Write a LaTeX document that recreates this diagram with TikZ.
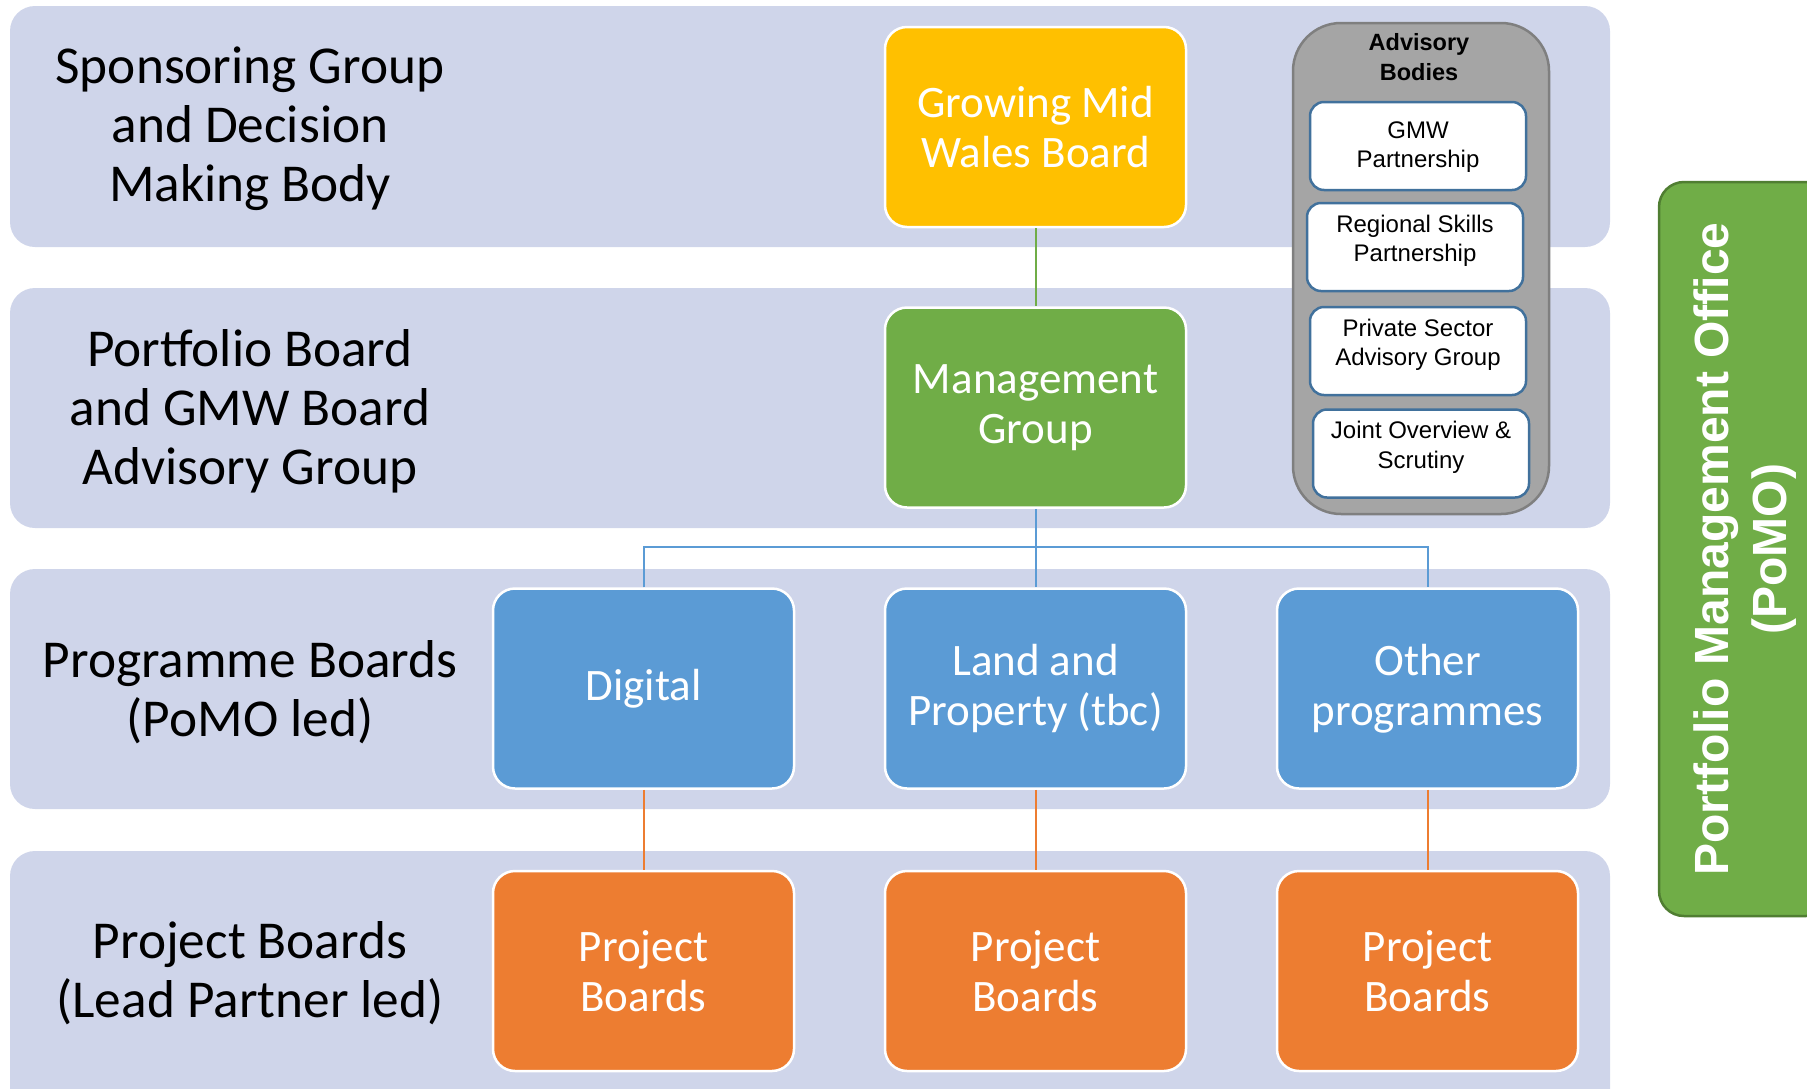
\documentclass[tikz,border=0pt]{standalone}
\usepackage{fontspec}
\setmainfont{Carlito}
\newfontfamily\arialf{Liberation Sans}
\definecolor{bandc}{HTML}{CFD5EA}
\definecolor{yellowc}{HTML}{FFC000}
\definecolor{greenc}{HTML}{70AD47}
\definecolor{bluec}{HTML}{5B9BD5}
\definecolor{orangec}{HTML}{ED7D31}
\definecolor{advgray}{HTML}{A5A5A5}
\definecolor{advborder}{HTML}{7F7F7F}
\definecolor{advblue}{HTML}{41719C}
\definecolor{pomoborder}{HTML}{507E32}
\begin{document}
\begin{tikzpicture}[x=1pt,y=-1pt,
  band/.style={fill=bandc, rounded corners=25pt},
  mainbox/.style={draw=white, line width=2.5pt, rounded corners=22pt, minimum width=301pt, minimum height=200pt, text=white, align=center, font=\fontsize{45}{50}\selectfont, inner sep=0pt},
  lbl/.style={align=center, font=\fontsize{53.3}{59}\selectfont, inner sep=0pt},
  advbox/.style={draw=advblue, fill=white, line width=2.5pt, rounded corners=14pt, minimum width=216pt, minimum height=88pt, inner sep=0pt},
  advtext/.style={align=center, font=\arialf\fontsize{24}{29.5}\selectfont, inner sep=0pt},
  conn/.style={line width=2pt}]
\useasboundingbox (0,0) rectangle (1807,1088);
\clip (0,0) rectangle (1807,1088);
% bands
\fill[band] (10,6) rectangle (1610,247);
\fill[band] (10,288) rectangle (1610,528);
\fill[band] (10,569) rectangle (1610,809);
\fill[band] (10,851) rectangle (1610,1115);
% left labels
\node[lbl] (l1) at (250,129) {Sponsoring Group\\and Decision\\Making Body};
\node[lbl] (l2) at (250,411) {Portfolio Board\\and GMW Board\\Advisory Group};
\node[lbl] (l3) at (250,692) {Programme Boards\\(PoMO led)};
\node[lbl] (l4) at (250,973.5) {Project Boards\\(Lead Partner led)};
% main boxes
\node[mainbox, fill=yellowc] (gmwb) at (1035.5,127) {Growing Mid\\Wales Board};
\node[mainbox, fill=greenc] (mg) at (1035.5,407.5) {Management\\Group};
\node[mainbox, fill=bluec] (dig) at (643.5,688.5) {Digital};
\node[mainbox, fill=bluec] (land) at (1035.5,688.5) {Land and\\Property (tbc)};
\node[mainbox, fill=bluec] (oth) at (1427.5,688.5) {Other\\programmes};
\node[mainbox, fill=orangec] (pb1) at (643.5,971) {Project\\Boards};
\node[mainbox, fill=orangec] (pb2) at (1035.5,971) {Project\\Boards};
\node[mainbox, fill=orangec] (pb3) at (1427.5,971) {Project\\Boards};
% connectors
\draw[conn, greenc] (gmwb.south) -- (mg.north);
\draw[conn, bluec] (mg.south) -- (land.north);
\draw[conn, bluec] (dig.north) -- ++(0,-40) -| (oth.north);
\draw[conn, orangec] (dig.south) -- (pb1.north);
\draw[conn, orangec] (land.south) -- (pb2.north);
\draw[conn, orangec] (oth.south) -- (pb3.north);
% advisory bodies
\node[draw=advborder, fill=advgray, line width=2.5pt, rounded corners=48pt, minimum width=256pt, minimum height=491pt, inner sep=0pt] (adv) at (1421,268.5) {};
\node[align=center, font=\arialf\bfseries\fontsize{23.5}{30}\selectfont, inner sep=0pt] (advt) at (1419,57.5) {Advisory\\Bodies};
\node[advbox] (a1) at (1418,146) {};
\node[advbox] (a2) at (1415,247) {};
\node[advbox] (a3) at (1418,351) {};
\node[advbox] (a4) at (1421,453.5) {};
\node[advtext] (a1t) at ([yshift=-1pt]a1.center) {GMW\\Partnership};
\node[advtext] (a2t) at ([yshift=6pt]a2.center) {Regional Skills\\Partnership};
\node[advtext] (a3t) at ([yshift=6pt]a3.center) {Private Sector\\Advisory Group};
\node[advtext] (a4t) at ([yshift=6pt]a4.center) {Joint Overview \&\\Scrutiny};
% PoMO
\node[draw=pomoborder, fill=greenc, line width=2.5pt, rounded corners=25pt, minimum width=734pt, minimum height=172pt, rotate=90, inner sep=0pt, text=white, align=center, font=\arialf\bfseries\fontsize{48}{58}\selectfont] (pomo) at (1745,549) {Portfolio Management Office\\(PoMO)};
\end{tikzpicture}
\end{document}
